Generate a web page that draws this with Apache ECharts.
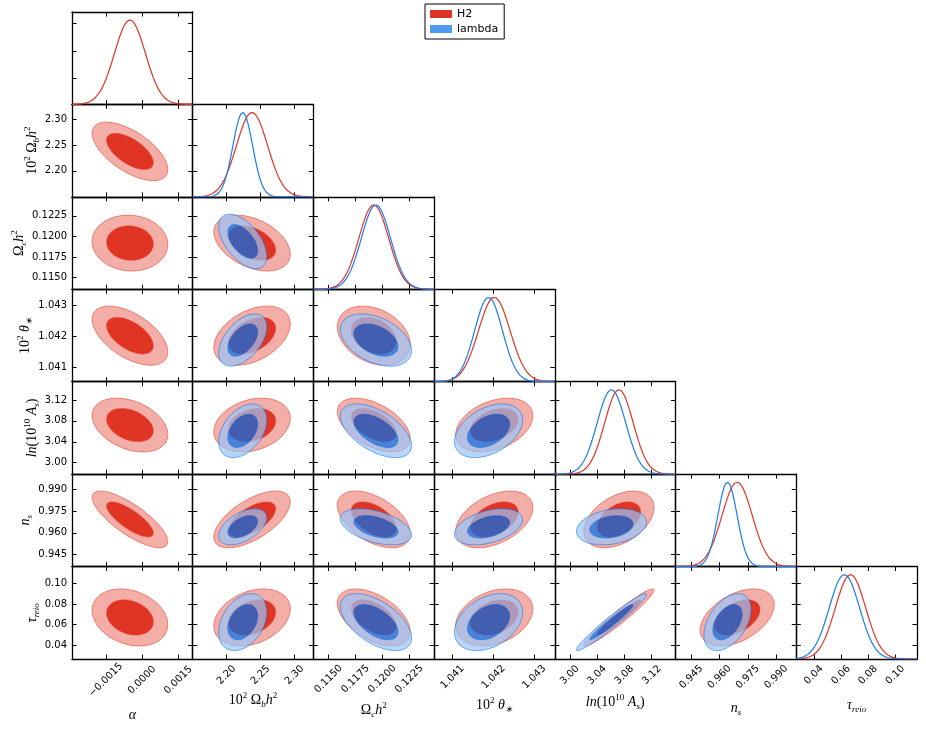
<!DOCTYPE html>
<html><head><meta charset="utf-8">
<script src="https://cdn.jsdelivr.net/npm/echarts@6/dist/echarts.min.js"></script>
<style>html,body{margin:0;padding:0;background:#fff}#c{width:926px;height:733px}</style>
</head><body><div id="c"></div>
<script>
// ---------------- data ----------------
const paramKeys = ['alpha', 'omegabh2', 'omegach2', 'theta', 'logA', 'ns', 'tau'];
const paramLabels = [
  '{it|α}',
  '{m|10}{sup|2}{m| Ω}{sub|b}{it|h}{sup|2}',
  '{m|Ω}{sub|c}{it|h}{sup|2}',
  '{m|10}{sup|2}{it| θ}{sub|∗}',
  '{it|ln}{m|(10}{sup|10}{it| A}{sub|s}{m|)}',
  '{it|n}{sub|s}',
  '{it|τ}{sub|reio}'
];
const axisMin = [-0.0029, 2.150, 0.1136, 1.04055, 2.978, 0.9367, 0.027];
const axisMax = [0.0021, 2.328, 0.1248, 1.04350, 3.155, 1.0006, 0.116];
const tickValues = [
  [-0.0015, 0, 0.0015],
  [2.20, 2.25, 2.30],
  [0.1150, 0.1175, 0.1200, 0.1225],
  [1.041, 1.042, 1.043],
  [3.00, 3.04, 3.08, 3.12],
  [0.945, 0.960, 0.975, 0.990],
  [0.04, 0.06, 0.08, 0.10]
];
const tickLabels = [
  ['\u22120.0015', '0.0000', '0.0015'],
  ['2.20', '2.25', '2.30'],
  ['0.1150', '0.1175', '0.1200', '0.1225'],
  ['1.041', '1.042', '1.043'],
  ['3.00', '3.04', '3.08', '3.12'],
  ['0.945', '0.960', '0.975', '0.990'],
  ['0.04', '0.06', '0.08', '0.10']
];
// posterior summaries per model (mean, standard deviation); null = not sampled
const meanH2      = [-0.0005, 2.2375, 0.1192, 1.04202, 3.072, 0.9693, 0.0670];
const sigmaH2     = [0.00064, 0.0230, 0.00138, 0.000385, 0.0210, 0.0080, 0.0112];
const meanLambda  = [null, 2.2238, 0.1194, 1.04188, 3.061, 0.9642, 0.0625];
const sigmaLambda = [null, 0.0145, 0.00135, 0.00034, 0.0210, 0.0051, 0.0112];
// correlation [row param, column param, rho]
const corrH2 = [
  [1, 0, -0.62], [2, 0, -0.05], [3, 0, -0.55], [4, 0, -0.35], [5, 0, -0.78], [6, 0, -0.25],
  [2, 1, -0.40], [3, 1, 0.40], [4, 1, 0.25], [5, 1, 0.62], [6, 1, 0.30],
  [3, 2, -0.30], [4, 2, -0.50], [5, 2, -0.50], [6, 2, -0.50],
  [4, 3, 0.35], [5, 3, 0.42], [6, 3, 0.30],
  [5, 4, 0.42], [6, 4, 0.96],
  [6, 5, 0.45]
];
const corrLambda = [
  [2, 1, -0.55], [3, 1, 0.50], [4, 1, 0.40], [5, 1, 0.50], [6, 1, 0.35],
  [3, 2, -0.40], [4, 2, -0.55], [5, 2, -0.45], [6, 2, -0.55],
  [4, 3, 0.40], [5, 3, 0.40], [6, 3, 0.35],
  [5, 4, 0.25], [6, 4, 0.97],
  [6, 5, 0.45]
];
const modelNames = ['H2', 'lambda'];
const contourRadii = [2.448, 1.515]; // 95% and 68% levels of a 2D Gaussian

// ---------------- layout & style ----------------
const GX0 = 72, GY0 = 12, CW = 120.71, CH = 92.43, NP = 7;
const xNameGap = [47, 32, 42, 37, 34, 40, 37];
const yNameGap = [0, 30, 41, 35, 30, 34, 30];
const xLabelMargin = [21, 16, 20, 18, 16, 18, 16];
const styles = {
  H2: { outer: 'rgb(243,174,167)', inner: '#E03424', edge: '#E8604F', line: '#E03424' },
  lambda: { outer: 'rgba(153,197,248,0.7)', inner: 'rgba(0,111,237,0.7)', edge: 'rgba(0,111,237,0.7)', line: '#1a7cf0' }
};
const richName = {
  m: { fontFamily: 'Liberation Serif', fontSize: 14, lineHeight: 18, verticalAlign: 'middle', color: '#000' },
  it: { fontFamily: 'Liberation Serif', fontStyle: 'italic', fontSize: 14, lineHeight: 18, verticalAlign: 'middle', color: '#000' },
  sup: { fontFamily: 'Liberation Serif', fontSize: 9, lineHeight: 9, verticalAlign: 'top', color: '#000' },
  sub: { fontFamily: 'Liberation Serif', fontStyle: 'italic', fontSize: 9, lineHeight: 9, verticalAlign: 'bottom', color: '#000' }
};

function labelFor(p, v) {
  const vals = tickValues[p];
  for (let k = 0; k < vals.length; k++) if (Math.abs(vals[k] - v) < 1e-9) return tickLabels[p][k];
  return '';
}

function makeAxis(p, pos, g, showLabels, isX) {
  const ax = {
    type: 'value', gridIndex: g, position: pos,
    min: axisMin[p], max: axisMax[p],
    axisLine: { show: true, onZero: false, lineStyle: { color: '#000', width: 1.3 } },
    axisTick: { show: true, inside: true, length: 4.5, customValues: tickValues[p], lineStyle: { color: '#000', width: 1 } },
    axisLabel: { show: false },
    splitLine: { show: false }
  };
  if (showLabels) {
    ax.axisLabel = {
      show: true, customValues: tickValues[p],
      formatter: v => labelFor(p, v),
      fontFamily: 'DejaVu Sans', fontSize: 10, color: '#000'
    };
    ax.name = paramLabels[p];
    ax.nameLocation = 'middle';
    ax.nameTextStyle = { rich: richName, color: '#000' };
    if (isX) {
      ax.axisLabel.rotate = 45;
      ax.axisLabel.align = 'center';
      ax.axisLabel.verticalAlign = 'middle';
      ax.axisLabel.margin = xLabelMargin[p];
      ax.nameGap = xNameGap[p];
    } else {
      ax.axisLabel.margin = 5;
      ax.nameGap = yNameGap[p];
      ax.nameRotate = 90;
    }
  }
  return ax;
}

function getCorr(list, i, j) {
  for (const r of list) if (r[0] === i && r[1] === j) return r[2];
  return 0;
}

function ellipse(mx, my, sx, sy, rho, r) {
  const pts = [], N = 120, s = Math.sqrt(1 - rho * rho);
  for (let k = 0; k < N; k++) {
    const t = 2 * Math.PI * k / N;
    pts.push([mx + r * sx * Math.cos(t), my + r * sy * (rho * Math.cos(t) + s * Math.sin(t))]);
  }
  return pts;
}

const grids = [], xAxes = [], yAxes = [], customSeries = [], lineSeries = [];

for (let i = 0; i < NP; i++) {
  for (let j = 0; j <= i; j++) {
    const g = grids.length;
    grids.push({ left: GX0 + j * CW, top: GY0 + i * CH, width: CW, height: CH, containLabel: false });
    const xb = xAxes.length;
    xAxes.push(makeAxis(j, 'bottom', g, i === NP - 1, true));
    xAxes.push(makeAxis(j, 'top', g, false, true));
    const yl = yAxes.length;
    yAxes.push(makeAxis(i, 'left', g, j === 0 && i > 0, false));
    yAxes.push(makeAxis(i, 'right', g, false, false));
    if (i === j) {
      const yd = yAxes.length;
      yAxes.push({ type: 'value', gridIndex: g, min: 0, max: 1.095, show: false,
        axisLine: { show: false }, axisTick: { show: false }, axisLabel: { show: false }, splitLine: { show: false } });
      [[meanH2, sigmaH2, 'H2'], [meanLambda, sigmaLambda, 'lambda']].forEach(([mu, sd, name]) => {
        if (mu[i] == null) return;
        const pts = [], N = 200;
        for (let k = 0; k <= N; k++) {
          const x = axisMin[i] + (axisMax[i] - axisMin[i]) * k / N;
          const z = (x - mu[i]) / sd[i];
          pts.push([x, Math.exp(-0.5 * z * z)]);
        }
        lineSeries.push({
          type: 'line', name: name, xAxisIndex: xb, yAxisIndex: yd, data: pts,
          symbol: 'none', showSymbol: false, silent: true, clip: true,
          lineStyle: { color: styles[name].line, width: 1.2 }, itemStyle: { color: styles[name].line },
          z: 3
        });
      });
    } else {
      [[meanH2, sigmaH2, corrH2, 'H2'], [meanLambda, sigmaLambda, corrLambda, 'lambda']].forEach(([mu, sd, cl, name]) => {
        if (mu[i] == null || mu[j] == null) return;
        const rho = getCorr(cl, i, j);
        const st = styles[name];
        customSeries.push({
          type: 'custom', name: name, xAxisIndex: xb, yAxisIndex: yl, clip: true, silent: true,
          itemStyle: { color: st.inner },
          data: [[mu[j], mu[i]]],
          renderItem: function (params, api) {
            const outer = ellipse(mu[j], mu[i], sd[j], sd[i], rho, contourRadii[0]).map(p => api.coord(p));
            const inner = ellipse(mu[j], mu[i], sd[j], sd[i], rho, contourRadii[1]).map(p => api.coord(p));
            const fmt = p => p[0].toFixed(2) + ' ' + p[1].toFixed(2);
            const ring = 'M' + outer.map(fmt).join(' L') + ' Z M' + inner.slice().reverse().map(fmt).join(' L') + ' Z';
            return {
              type: 'group',
              children: [
                { type: 'path', shape: { pathData: ring }, style: { fill: st.outer, stroke: st.edge, lineWidth: 0.8 } },
                { type: 'polygon', shape: { points: inner }, style: { fill: st.inner } }
              ]
            };
          }
        });
      });
    }
  }
}

const chart = echarts.init(document.getElementById('c'), null, { renderer: 'canvas' });
chart.setOption({
  animation: false,
  backgroundColor: '#fff',
  legend: {
    data: [
      { name: 'H2', icon: 'rect', itemStyle: { color: '#E03424' } },
      { name: 'lambda', icon: 'rect', itemStyle: { color: '#4d9af2' } }
    ],
    orient: 'vertical', left: 425, top: 4,
    itemWidth: 22, itemHeight: 8, itemGap: 3,
    padding: [4, 6, 4, 5],
    borderColor: '#000', borderWidth: 1,
    selectedMode: false,
    textStyle: { fontFamily: 'DejaVu Sans', fontSize: 11, color: '#000', lineHeight: 12 }
  },
  grid: grids,
  xAxis: xAxes,
  yAxis: yAxes,
  series: customSeries.concat(lineSeries)
});
</script>
</body></html>
